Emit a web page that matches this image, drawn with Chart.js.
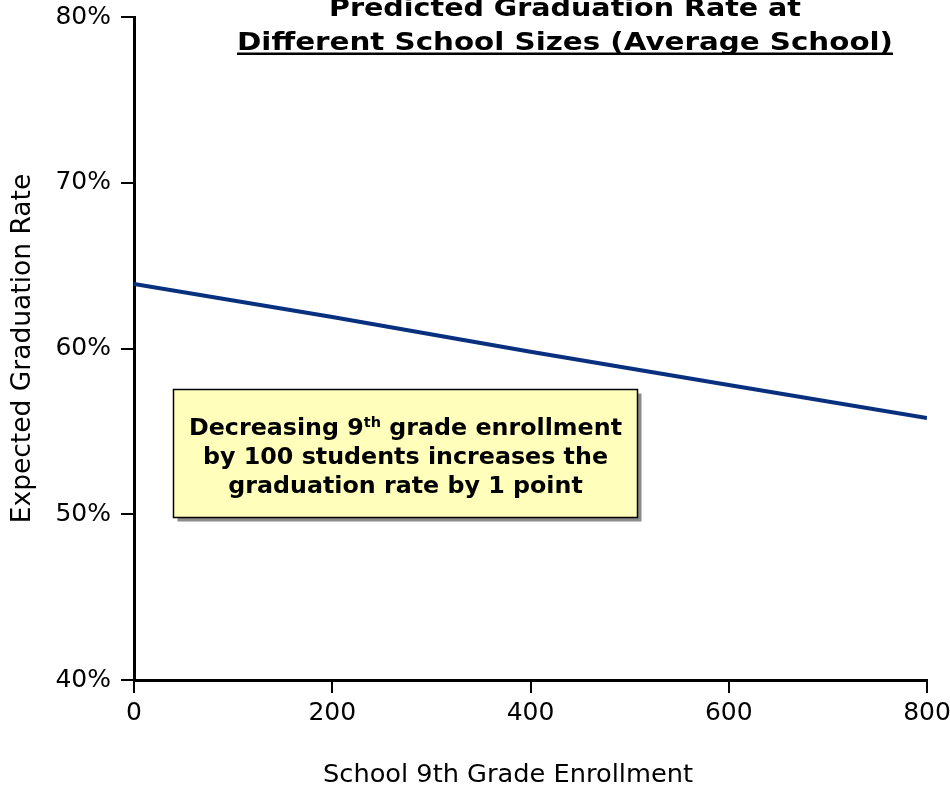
<!DOCTYPE html>
<html>
<head>
<meta charset="utf-8">
<script src="https://cdn.jsdelivr.net/npm/chart.js@4"></script>
<style>
  html, body { margin: 0; padding: 0; background: #fff; }
  #wrap { width: 950px; height: 787px; }
</style>
</head>
<body>
<div id="wrap"><canvas id="c" width="950" height="787"></canvas></div>
<script>
// ---- data ----
const enrollment = [0, 200, 400, 600, 800];
const gradRate = [63.9, 61.9, 59.8, 57.8, 55.8];
const yTickValues = [40, 50, 60, 70, 80];
const xTickValues = [0, 200, 400, 600, 800];
const titleLines = ["Predicted Graduation Rate at", "Different School Sizes (Average School)"];
const xTitle = "School 9th Grade Enrollment";
const yTitle = "Expected Graduation Rate";
const noteLines = [["Decreasing 9", "th", " grade enrollment"], ["by 100 students increases the"], ["graduation rate by 1 point"]];

const FONT = '"DejaVu Sans", Verdana, sans-serif';

const points = enrollment.map((x, i) => ({ x: x, y: gradRate[i] }));

function stretchedText(ctx, text, cx, y, targetW) {
  const w = ctx.measureText(text).width;
  const s = targetW ? targetW / w : 1;
  ctx.save();
  ctx.translate(cx, y);
  ctx.scale(s, 1);
  ctx.textAlign = 'center';
  ctx.fillText(text, 0, 0);
  ctx.restore();
  return w * s;
}

const overlay = {
  id: 'overlay',
  afterDraw(chart) {
    const ctx = chart.ctx;
    ctx.save();
    ctx.fillStyle = '#000';
    ctx.textBaseline = 'alphabetic';
    // Title
    ctx.font = 'bold 25px ' + FONT;
    const cx = 565;
    stretchedText(ctx, titleLines[0], cx, 15.5, 472);
    const w2 = stretchedText(ctx, titleLines[1], cx, 50, 656);
    ctx.fillRect(cx - w2 / 2, 52.5, w2, 2.5);

    // X axis title
    ctx.font = '25px ' + FONT;
    stretchedText(ctx, xTitle, 508, 782, 370);

    // Annotation box
    const bx = 173.5, by = 389.5, bw = 464, bh = 128;
    ctx.fillStyle = '#8c8c8c';
    ctx.fillRect(bx + 4, by + 4, bw, bh);
    ctx.fillStyle = '#FFFFBB';
    ctx.fillRect(bx, by, bw, bh);
    ctx.strokeStyle = '#000';
    ctx.lineWidth = 1.5;
    ctx.strokeRect(bx, by, bw, bh);

    ctx.fillStyle = '#000';
    const mainFont = 'bold 23px ' + FONT;
    const supFont = 'bold 14px ' + FONT;
    const centerX = bx + bw / 2;
    const baselines = [435, 464, 493];
    ctx.textAlign = 'left';
    const lineWidths = noteLines.map(parts => parts.map((p, pi) => {
      ctx.font = (parts.length === 3 && pi === 1) ? supFont : mainFont;
      return ctx.measureText(p).width;
    }));
    const firstTotal = lineWidths[0].reduce((a, b) => a + b, 0);
    const sx = 433 / firstTotal;
    noteLines.forEach((parts, li) => {
      const widths = lineWidths[li];
      const total = widths.reduce((a, b) => a + b, 0);
      ctx.save();
      ctx.translate(centerX, baselines[li]);
      ctx.scale(sx, 1);
      let x = -total / 2;
      parts.forEach((p, pi) => {
        const isSup = parts.length === 3 && pi === 1;
        ctx.font = isSup ? supFont : mainFont;
        ctx.fillText(p, x, isSup ? -8 : 0);
        x += widths[pi];
      });
      ctx.restore();
    });
    ctx.restore();
  }
};

function fixPad(scale) {
  scale.paddingTop = 0;
  scale.paddingBottom = 0;
  scale.paddingLeft = 0;
  scale.paddingRight = 0;
}

new Chart(document.getElementById('c'), {
  type: 'line',
  data: {
    datasets: [{
      data: points,
      borderColor: '#08307F',
      borderWidth: 4,
      pointRadius: 0,
      fill: false,
      tension: 0
    }]
  },
  options: {
    responsive: false,
    animation: false,
    devicePixelRatio: 1,
    layout: { padding: { top: 17, right: 23, bottom: 0, left: 0 } },
    plugins: {
      legend: { display: false },
      tooltip: { enabled: false },
      title: { display: false }
    },
    scales: {
      x: {
        type: 'linear',
        min: 0,
        max: 800,
        afterFit(scale) { scale.height = 107; fixPad(scale); },
        afterBuildTicks(scale) { scale.ticks = xTickValues.map(v => ({ value: v })); },
        border: { display: true, color: '#000', width: 3 },
        grid: { drawOnChartArea: false, drawTicks: true, tickLength: 13, color: '#000', lineWidth: 2 },
        ticks: {
          color: '#000',
          font: { family: FONT, size: 25 },
          padding: 5,
          maxRotation: 0,
          callback: v => String(v)
        }
      },
      y: {
        min: 40,
        max: 80,
        afterFit(scale) { scale.width = 134; fixPad(scale); },
        afterBuildTicks(scale) { scale.ticks = yTickValues.map(v => ({ value: v })); },
        border: { display: true, color: '#000', width: 3 },
        grid: { drawOnChartArea: false, drawTicks: true, tickLength: 13, color: '#000', lineWidth: 2 },
        ticks: {
          color: '#000',
          font: { family: FONT, size: 25 },
          padding: 10,
          callback: v => v + '%'
        },
        title: {
          display: true,
          text: yTitle,
          color: '#000',
          font: { family: FONT, size: 26.5 },
          padding: { top: 7, bottom: 0 }
        }
      }
    }
  },
  plugins: [overlay]
});
</script>
</body>
</html>
